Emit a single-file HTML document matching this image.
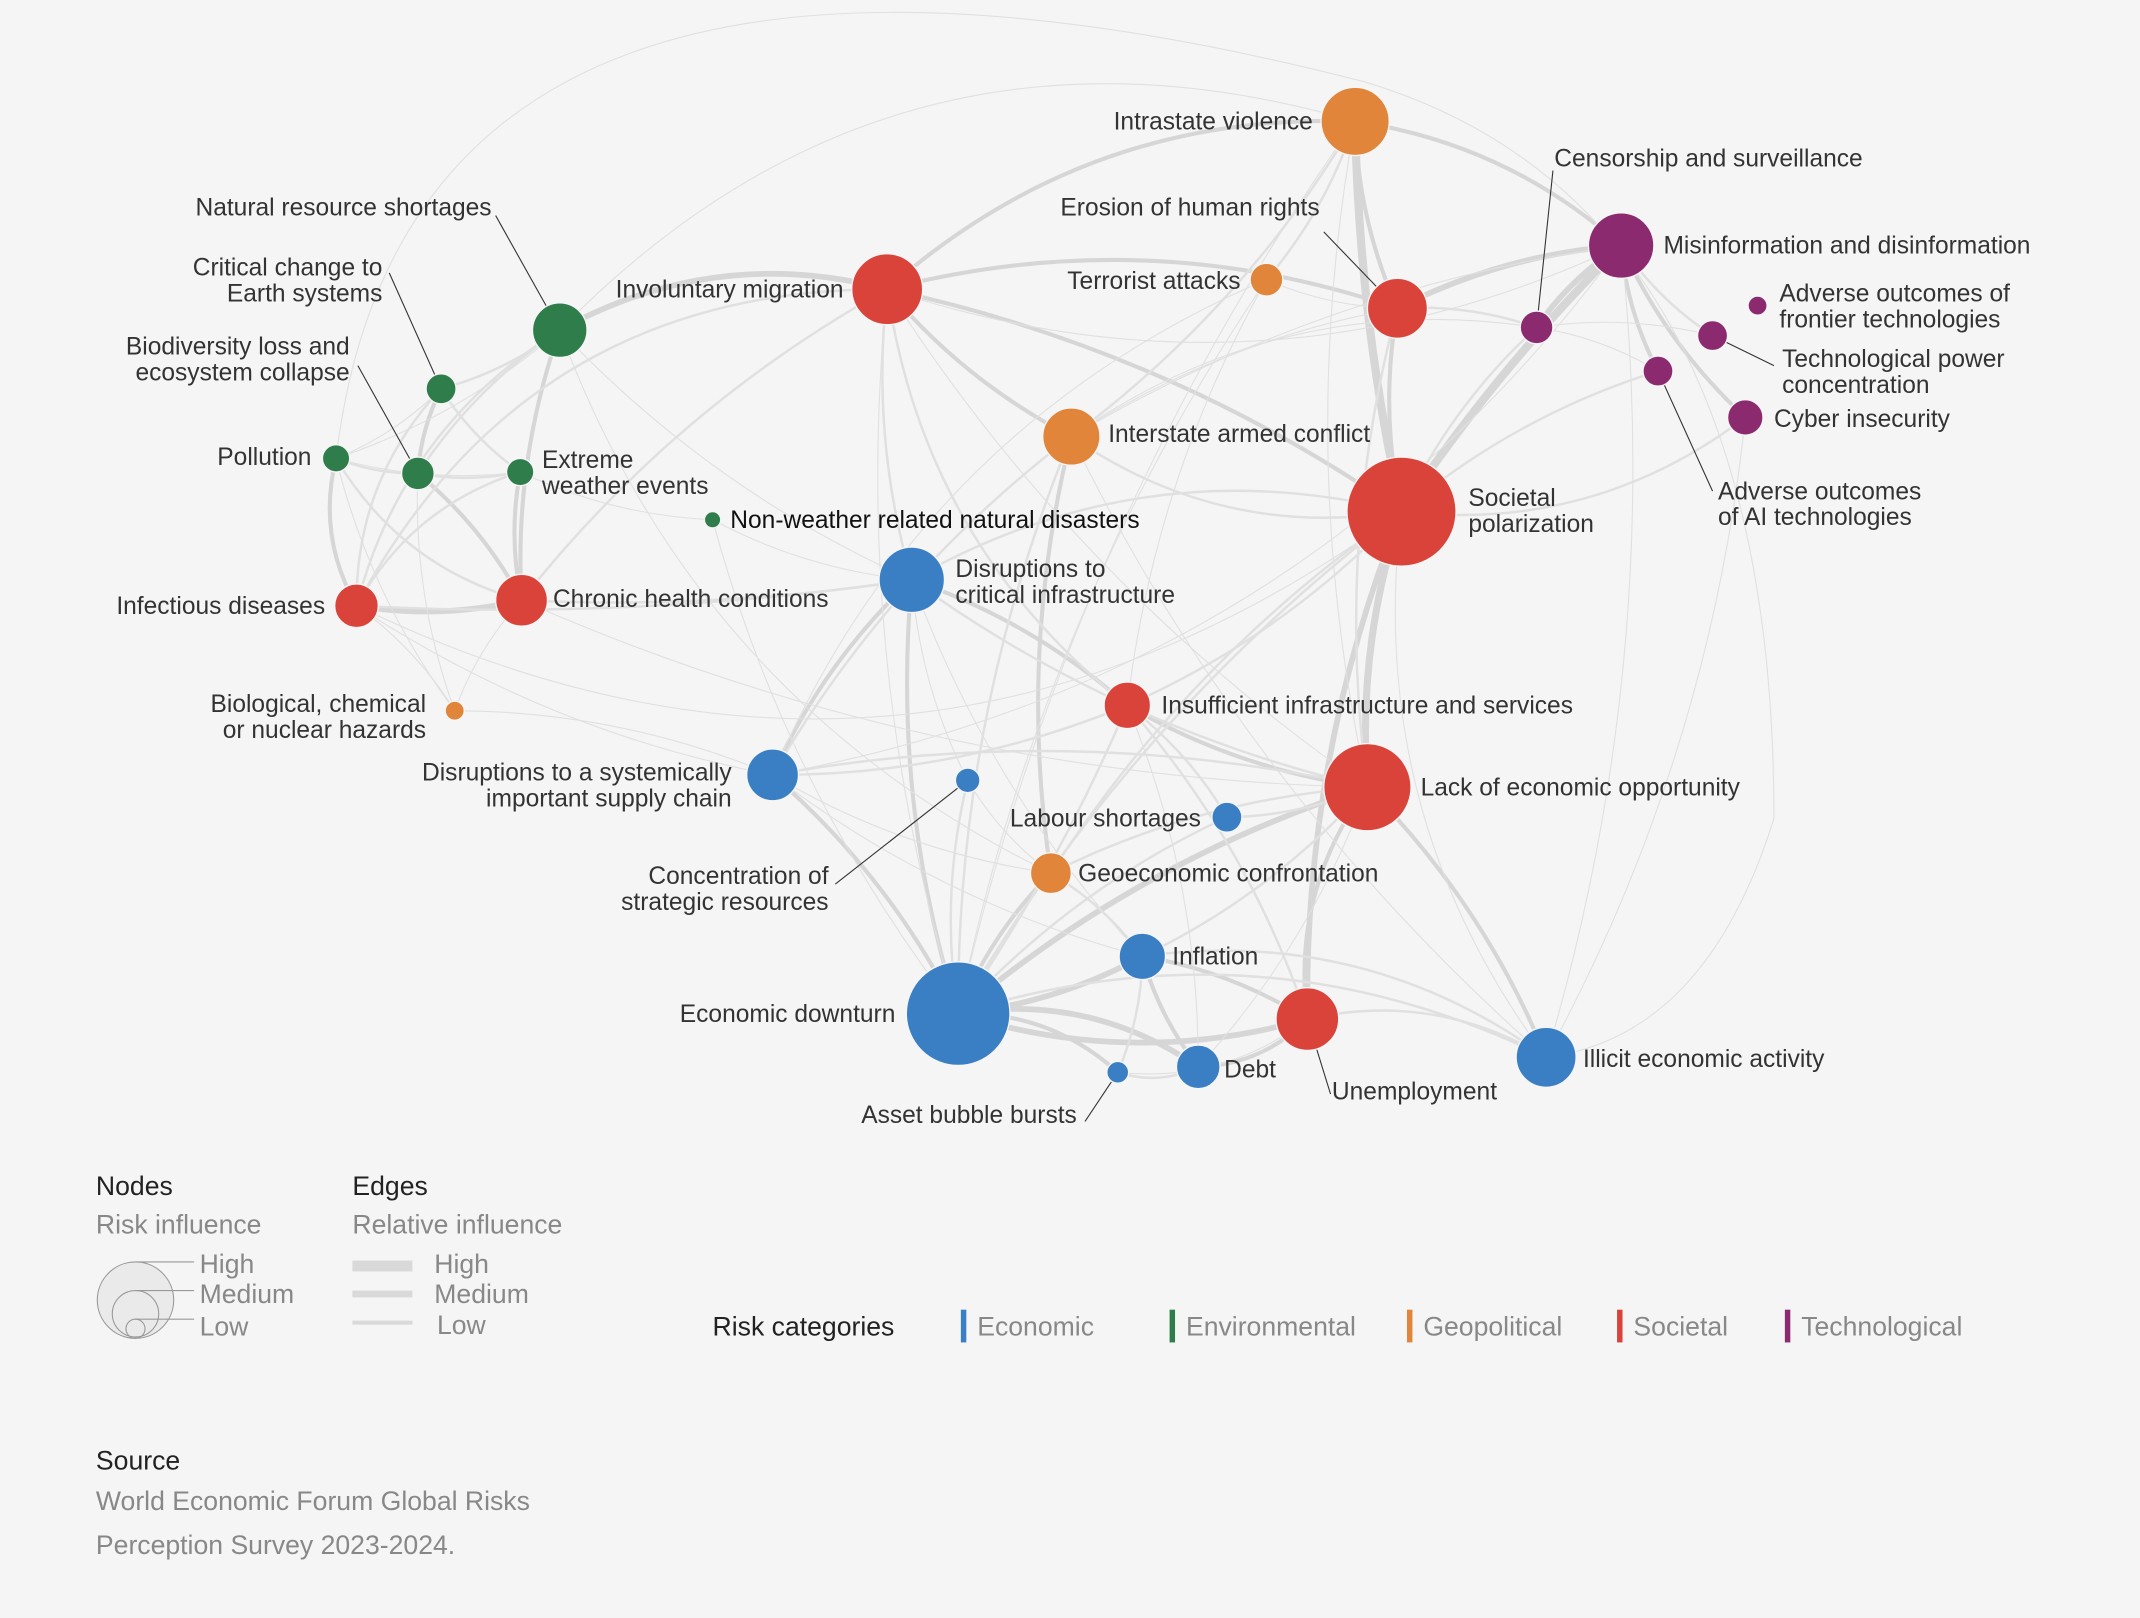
<!DOCTYPE html>
<html><head><meta charset="utf-8"><style>
html,body{margin:0;padding:0;background:#f5f5f5;}
svg{display:block;}
text{font-family:"Liberation Sans",sans-serif;font-size:18px;fill:#333;}
.g{fill:#888;font-size:19.5px;}
.h{fill:#222;font-size:19.5px;}
</style></head><body>
<svg id="s" width="2140" height="1618" viewBox="0 0 1568 1186" xmlns="http://www.w3.org/2000/svg">
<rect width="1568" height="1186" fill="#f5f5f5"/>
<g id="edges" fill="none" stroke="#d9d9d9" stroke-linecap="round"></g>
<g id="leaders" stroke="#333" stroke-width="0.8" fill="none">
<line x1="363" y1="158" x2="410" y2="242"/>
<line x1="285" y1="200" x2="323" y2="285"/>
<line x1="262" y1="268" x2="306" y2="347"/>
<line x1="970" y1="170" x2="1024" y2="226"/>
<line x1="1138" y1="125" x2="1126" y2="240"/>
<line x1="1255" y1="246" x2="1300" y2="268"/>
<line x1="1215" y1="272" x2="1255" y2="360"/>
<line x1="612" y1="648" x2="709" y2="572"/>
<line x1="795" y1="822" x2="819" y2="786"/>
<line x1="958" y1="747" x2="975" y2="802"/>
</g>
<g id="nodes"></g>
<g>
<text x="962" y="95" text-anchor="end">Intrastate violence</text>
<text x="1219" y="186">Misinformation and disinformation</text>
<text x="1139" y="122">Censorship and surveillance</text>
<text x="967" y="158" text-anchor="end">Erosion of human rights</text>
<text x="909" y="212" text-anchor="end">Terrorist attacks</text>
<text x="618" y="218" text-anchor="end">Involuntary migration</text>
<text x="1304" y="221">Adverse outcomes of</text>
<text x="1304" y="240">frontier technologies</text>
<text x="1306" y="269">Technological power</text>
<text x="1306" y="288">concentration</text>
<text x="1300" y="313">Cyber insecurity</text>
<text x="1259" y="366">Adverse outcomes</text>
<text x="1259" y="385">of AI technologies</text>
<text x="360" y="158" text-anchor="end">Natural resource shortages</text>
<text x="280" y="202" text-anchor="end">Critical change to</text>
<text x="280" y="221" text-anchor="end">Earth systems</text>
<text x="256" y="260" text-anchor="end">Biodiversity loss and</text>
<text x="256" y="279" text-anchor="end">ecosystem collapse</text>
<text x="228" y="341" text-anchor="end">Pollution</text>
<text x="397" y="343">Extreme</text>
<text x="397" y="362">weather events</text>
<text x="812" y="324">Interstate armed conflict</text>
<text x="1076" y="371">Societal</text>
<text x="1076" y="390">polarization</text>
<text x="535" y="387" style="fill:#111">Non-weather related natural disasters</text>
<text x="238" y="450" text-anchor="end">Infectious diseases</text>
<text x="405" y="445">Chronic health conditions</text>
<text x="700" y="423">Disruptions to</text>
<text x="700" y="442">critical infrastructure</text>
<text x="312" y="522" text-anchor="end">Biological, chemical</text>
<text x="312" y="541" text-anchor="end">or nuclear hazards</text>
<text x="851" y="523">Insufficient infrastructure and services</text>
<text x="536" y="572" text-anchor="end">Disruptions to a systemically</text>
<text x="536" y="591" text-anchor="end">important supply chain</text>
<text x="1041" y="583">Lack of economic opportunity</text>
<text x="880" y="606" text-anchor="end">Labour shortages</text>
<text x="607" y="648" text-anchor="end">Concentration of</text>
<text x="607" y="667" text-anchor="end">strategic resources</text>
<text x="790" y="646">Geoeconomic confrontation</text>
<text x="859" y="707">Inflation</text>
<text x="656" y="749" text-anchor="end">Economic downturn</text>
<text x="1160" y="782">Illicit economic activity</text>
<text x="897" y="790">Debt</text>
<text x="976" y="806">Unemployment</text>
<text x="789" y="823" text-anchor="end">Asset bubble bursts</text>
</g>
<!-- legend -->
<g>
<text x="70" y="876" class="h">Nodes</text>
<text x="70" y="904" class="g">Risk influence</text>
<circle cx="99" cy="953" r="28" fill="#eaeaea" stroke="#999" stroke-width="0.8"/>
<circle cx="99" cy="963" r="17" fill="none" stroke="#999" stroke-width="0.8"/>
<circle cx="99" cy="974" r="7" fill="none" stroke="#999" stroke-width="0.8"/>
<line x1="99" y1="925" x2="142" y2="925" stroke="#999" stroke-width="0.8"/>
<line x1="99" y1="946" x2="142" y2="946" stroke="#999" stroke-width="0.8"/>
<line x1="99" y1="967" x2="142" y2="967" stroke="#999" stroke-width="0.8"/>
<text x="146" y="933" class="g">High</text>
<text x="146" y="955" class="g">Medium</text>
<text x="146" y="979" class="g">Low</text>
<text x="258" y="876" class="h">Edges</text>
<text x="258" y="904" class="g">Relative influence</text>
<rect x="258" y="924" width="44" height="8" fill="#d9d9d9"/>
<rect x="258" y="946" width="44" height="5" fill="#d9d9d9"/>
<rect x="258" y="968" width="44" height="3" fill="#d9d9d9"/>
<text x="318" y="933" class="g">High</text>
<text x="318" y="955" class="g">Medium</text>
<text x="320" y="978" class="g">Low</text>
<text x="522" y="979" class="h">Risk categories</text>
<rect x="704" y="960" width="4" height="24" fill="#3a7fc4"/><text x="716" y="979" class="g">Economic</text>
<rect x="857" y="960" width="4" height="24" fill="#2f7d4b"/><text x="869" y="979" class="g">Environmental</text>
<rect x="1031" y="960" width="4" height="24" fill="#e0853a"/><text x="1043" y="979" class="g">Geopolitical</text>
<rect x="1185" y="960" width="4" height="24" fill="#d9433a"/><text x="1197" y="979" class="g">Societal</text>
<rect x="1308" y="960" width="4" height="24" fill="#8b2a6e"/><text x="1320" y="979" class="g">Technological</text>
<text x="70" y="1077" class="h">Source</text>
<text x="70" y="1107" class="g">World Economic Forum Global Risks</text>
<text x="70" y="1139" class="g">Perception Survey 2023-2024.</text>
</g>
</svg>
<script>
var C={b:"#3a7fc4",g:"#2f7d4b",o:"#e0853a",r:"#d9433a",p:"#8b2a6e"};
var N={
IV:[993,89,25,"o"],MI:[1188,180,24,"p"],IM:[650,212,26,"r"],TA:[928,205,12,"o"],EH:[1024,226,22,"r"],
CS:[1126,240,12,"p"],AF:[1288,224,7,"p"],TP:[1255,246,11,"p"],AI:[1215,272,11,"p"],CY:[1279,306,13,"p"],
NR:[410,242,20,"g"],CC:[323,285,11,"g"],PO:[246,336,10,"g"],BD:[306,347,12,"g"],EW:[381,346,10,"g"],
IA:[785,320,21,"o"],SP:[1027,375,40,"r"],NW:[522,381,6,"g"],ID:[261,444,16,"r"],CH:[382,440,19,"r"],
DC:[668,425,24,"b"],BC:[333,521,7,"o"],II:[826,517,17,"r"],SC:[566,568,19,"b"],CO:[709,572,9,"b"],
LE:[1002,577,32,"r"],LS:[899,599,11,"b"],GC:[770,640,15,"o"],IN:[837,701,17,"b"],ED:[702,743,38,"b"],
UN:[958,747,23,"r"],IL:[1133,775,22,"b"],DE:[878,782,16,"b"],AB:[819,786,8,"b"]};
var E=[
["IV","SP",6,.05],["MI","SP",6,.05],["MI","CS",4,.1],["MI","EH",4,.1],["SP","LE",5,.1],["SP","UN",4,.1],
["LE","ED",4,.1],["ED","IN",4,.1],["ED","DE",4,-.2],["ED","UN",4,.15],["NR","IM",4,-.2],["ID","CH",4,.1],
["CH","BD",3,.1],["CC","BD",3,.1],["PO","ID",3,.2],["IA","GC",3,.1],["IM","IA",3,.1],["IM","IV",3,-.2],
["IV","EH",3,.1],["IV","MI",3,-.15],["DC","SC",3,.1],["ED","SC",3,.1],["DC","ED",3,.1],["LE","IL",3,-.1],
["UN","IL",2,-.2],["IN","DE",3,.1],["MI","CY",3,.1],["MI","AI",3,.1],["MI","TP",2,.1],["EH","SP",3,.1],
["IM","SP",3,-.1],["IM","EH",3,-.15],["IM","CH",2,.1],["NR","CH",3,.1],["NR","BD",2,.1],["EW","CH",3,.1],
["CC","EW",2,.1],["PO","BD",2,.1],["PO","CH",2,.2],["EW","ID",2,.2],["NR","ID",2,.2],["CC","ID",2,.2],
["IM","ID",2,.3],["IA","IV",2,.1],["TA","IV",2,.1],["TA","EH",1,.1],["IA","SP",2,.2],["II","LE",3,.1],
["II","DC",3,.1],["II","SP",2,.1],["LE","GC",2,.1],["LE","UN",3,.2],["GC","ED",3,.1],["IN","UN",3,-.1],
["DE","UN",3,.2],["AB","ED",3,.2],["AB","IN",2,.1],["IL","SP",1,-.2],["IL","IN",2,.2],["IL","ED",2,.2],
["CS","EH",2,.1],["CS","SP",2,.1],["CY","SP",2,-.2],["AI","SP",2,.1],["AI","CS",1,.1],["TP","CS",1,.1],
["LS","LE",2,.1],["LS","ED",2,.1],["LS","II",2,.1],["SC","LE",2,-.1],["SC","II",2,.1],["CO","ED",2,.1],
["CO","GC",1,.1],["IM","II",2,.2],["IM","DC",2,.1],["NW","DC",1,.1],["NW","ED",1,.1],["DC","LE",2,.1],
["CH","DC",2,.05],["ID","DC",2,.05],["BC","ID",1,.1],["BC","SC",1,-.1],["IA","ED",2,.1],["IA","SC",2,.1],
["TA","SC",1,.2],["TA","II",1,.1],["EH","LE",2,.1],["IV","LE",1,.1],["SP","GC",2,.1],["SP","ED",2,.1],
["SP","DC",2,.2],["SP","ID",1,-.3],["MI","SC",1,-.2],["MI","IL",1,-.1],["CY","IL",1,-.1],["NR","IV",1,-.3],
["NR","DC",1,.1],["PO","BC",1,.1],["BD","BC",1,.1],["CH","BC",1,.1],["NR","GC",1,.2],["ED","II",2,.05],
["UN","II",2,.1],["DE","II",1,.1],["IN","GC",2,.1],["IN","LE",2,.1],["DE","LE",1,.1],["AB","DE",2,.2],
["AB","UN",1,.2],["SC","IN",1,.1],["SC","GC",1,.1],["MI","IM",1,-.2],["MI","IA",1,.1],["CS","IA",1,.2],
["EH","IA",1,.1],["IM","ED",1,.1],["IM","LE",1,.1],["CH","LE",1,.1],["ID","SC",1,.1],["DC","CO",1,.1],
["DC","IN",1,.1],["IA","IL",1,.1],["IV","ED",1,.1],["TA","ED",1,.1],["EW","NW",1,.1],["CC","NR",2,.1],
["PO","NR",1,.1],["PO","CC",1,.1],["BD","EW",2,.1],["PO","EW",1,.1]
];
var ns="http://www.w3.org/2000/svg";var eg=document.getElementById("edges"),ng=document.getElementById("nodes");
var W={1:0.8,2:1.8,3:3,4:4.2,5:5.2,6:6};
E.forEach(function(e){var a=N[e[0]],b=N[e[1]];var dx=b[0]-a[0],dy=b[1]-a[1];
var mx=(a[0]+b[0])/2-dy*e[3],my=(a[1]+b[1])/2+dx*e[3];
var p=document.createElementNS(ns,"path");p.setAttribute("d","M"+a[0]+" "+a[1]+"Q"+mx+" "+my+" "+b[0]+" "+b[1]);
p.setAttribute("stroke-width",W[e[2]]);p.setAttribute("stroke",e[2]>=3?"#d6d6d6":"#e0e0e0");eg.appendChild(p);});
var big=document.createElementNS(ns,"path");big.setAttribute("d","M246 336 Q300 -120 1000 60 Q1300 150 1300 600 Q1250 760 1133 775");big.setAttribute("stroke-width","0.8");big.setAttribute("stroke","#e0e0e0");eg.appendChild(big);
for(var k in N){var n=N[k];var c=document.createElementNS(ns,"circle");c.setAttribute("cx",n[0]);c.setAttribute("cy",n[1]);c.setAttribute("r",n[2]);c.setAttribute("fill",C[n[3]]);c.setAttribute("stroke","#f5f5f5");c.setAttribute("stroke-width","1");ng.appendChild(c);}
</script>
</body></html>
